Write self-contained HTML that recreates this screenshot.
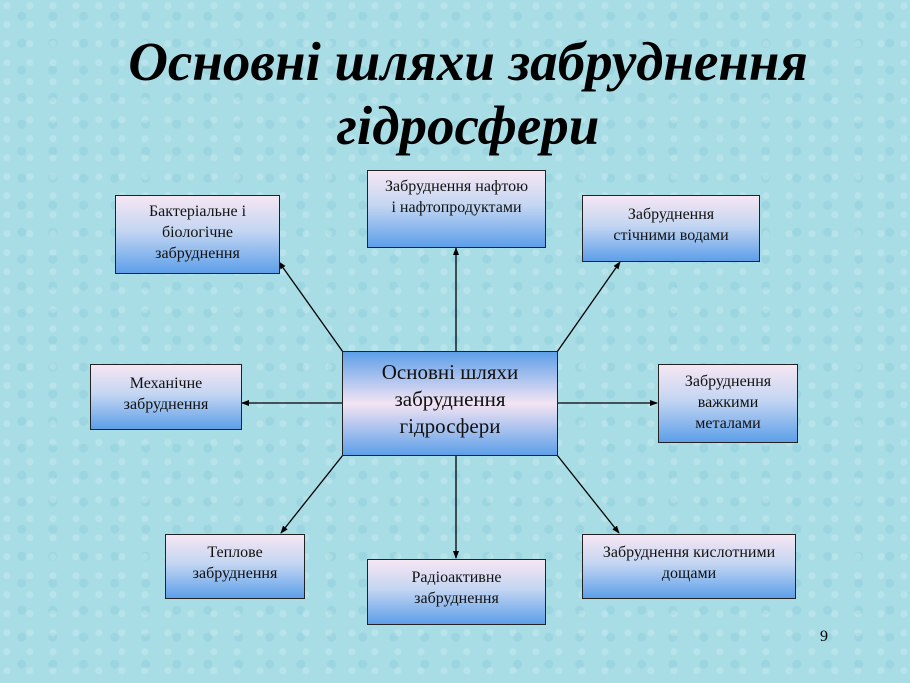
<!DOCTYPE html>
<html><head><meta charset="utf-8"><style>
html,body{margin:0;padding:0}
body{width:910px;height:683px;position:relative;overflow:hidden;
background:#a9dde6;
background-image:radial-gradient(circle at 30% 30%,rgba(255,255,255,.18) 0 3px,transparent 4px),radial-gradient(circle at 70% 60%,rgba(80,170,190,.15) 0 4px,transparent 5px);
background-size:23px 19px,31px 27px;
font-family:"Liberation Serif",serif;}
.t{position:absolute;left:13px;width:910px;text-align:center;font-weight:bold;font-style:italic;font-size:55px;line-height:64px;color:#000}
.b{position:absolute;box-sizing:border-box;border:1.5px solid #222;
background:linear-gradient(#f6e6f3,#c4d6f2 45%,#5d9fe9);
text-align:center;font-size:16px;line-height:21px;color:#111;padding-top:5px}
.c{background:linear-gradient(#5d9fe9,#f3e4f3 50%,#5d9fe9);font-size:21px;line-height:27px;padding-top:7px}
svg{position:absolute;left:0;top:0}
.n{position:absolute;left:820px;top:628px;font-size:16px}
</style></head><body>
<div class="t" style="top:30px">Основні шляхи забруднення</div>
<div class="t" style="top:94px">гідросфери</div>
<svg width="910" height="683">
<defs><marker id="a" markerWidth="8" markerHeight="8" refX="7" refY="4" orient="auto" markerUnits="userSpaceOnUse"><path d="M0,1 L8,4 L0,7z" fill="#000"/></marker></defs>
<g stroke="#000" stroke-width="1.3" marker-end="url(#a)">
<line x1="343" y1="352" x2="279" y2="262"/>
<line x1="456" y1="351" x2="456" y2="248"/>
<line x1="557" y1="352" x2="620" y2="262"/>
<line x1="342" y1="403" x2="242" y2="403"/>
<line x1="557" y1="403" x2="657" y2="403"/>
<line x1="343" y1="455" x2="281" y2="533"/>
<line x1="456" y1="455" x2="456" y2="558"/>
<line x1="557" y1="455" x2="619" y2="533"/>
</g></svg>
<div class="b" style="left:115px;top:195px;width:165px;height:79px">Бактеріальне і<br>біологічне<br>забруднення</div>
<div class="b" style="left:367px;top:170px;width:179px;height:78px">Забруднення нафтою<br>і нафтопродуктами</div>
<div class="b" style="left:582px;top:195px;width:178px;height:67px;padding-top:8px">Забруднення<br>стічними водами</div>
<div class="b" style="left:90px;top:364px;width:152px;height:66px;padding-top:8px">Механічне<br>забруднення</div>
<div class="b c" style="left:342px;top:351px;width:216px;height:105px">Основні шляхи<br>забруднення<br>гідросфери</div>
<div class="b" style="left:658px;top:364px;width:140px;height:79px;padding-top:6px">Забруднення<br>важкими<br>металами</div>
<div class="b" style="left:165px;top:534px;width:140px;height:65px;padding-top:7px">Теплове<br>забруднення</div>
<div class="b" style="left:367px;top:559px;width:179px;height:66px;padding-top:7px">Радіоактивне<br>забруднення</div>
<div class="b" style="left:582px;top:534px;width:214px;height:65px;padding-top:7px">Забруднення кислотними<br>дощами</div>
<div class="n">9</div>
</body></html>
